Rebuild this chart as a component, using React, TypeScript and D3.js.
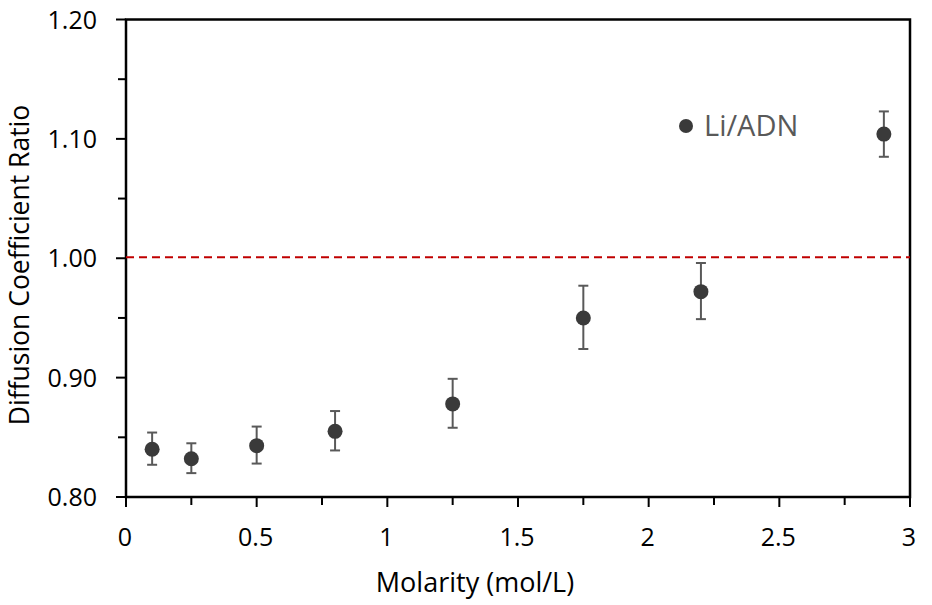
import React, { useEffect, useRef } from 'react';
import * as d3 from 'd3';

const molarity = [0.1, 0.25, 0.5, 0.8, 1.25, 1.75, 2.2, 2.9];
const ratio = [0.840, 0.832, 0.843, 0.855, 0.878, 0.950, 0.972, 1.104];
const errPlus = [0.014, 0.013, 0.016, 0.017, 0.021, 0.027, 0.024, 0.019];
const errMinus = [0.013, 0.012, 0.015, 0.016, 0.020, 0.026, 0.023, 0.019];
const yTicks = [0.8, 0.9, 1.0, 1.1, 1.2];
const xTicks = [0, 0.5, 1, 1.5, 2, 2.5, 3];
const seriesName = 'Li/ADN';
const refLine = 1.0;

const App = () => {
  const ref = useRef<SVGSVGElement>(null);

  useEffect(() => {
    const svg = d3.select(ref.current);
    svg.selectAll('*').remove();
    const font = '"Open Sans", "Noto Sans", sans-serif';
    const left = 126, right = 910, top = 19.5, bottom = 497;

    const x = d3.scaleLinear().domain([0, 3]).range([left, right]);
    const y = d3.scaleLinear().domain([0.8, 1.2]).range([bottom, top]);

    // frame
    svg.append('rect').attr('x', left).attr('y', top).attr('width', right - left).attr('height', bottom - top)
      .attr('fill', 'none').attr('stroke', '#000').attr('stroke-width', 2.5);

    // y ticks
    const yMinor = d3.range(0.85, 1.2, 0.1);
    svg.selectAll('.ymaj').data(yTicks).enter().append('line')
      .attr('x1', left - 10).attr('x2', left).attr('y1', d => y(d)).attr('y2', d => y(d))
      .attr('stroke', '#000').attr('stroke-width', 2);
    svg.selectAll('.ymin').data(yMinor).enter().append('line')
      .attr('x1', left - 8).attr('x2', left).attr('y1', d => y(d)).attr('y2', d => y(d))
      .attr('stroke', '#000').attr('stroke-width', 2);
    svg.selectAll('.ylab').data(yTicks).enter().append('text')
      .attr('x', 97).attr('y', d => y(d)).attr('dy', '0.36em').attr('text-anchor', 'end')
      .attr('font-family', font).attr('font-size', 25).attr('fill', '#000')
      .text(d => d3.format('.2f')(d));

    // x ticks
    const xMinor = d3.range(0.25, 3, 0.5);
    svg.selectAll('.xmaj').data(xTicks).enter().append('line')
      .attr('x1', d => x(d)).attr('x2', d => x(d)).attr('y1', bottom).attr('y2', bottom + 10)
      .attr('stroke', '#000').attr('stroke-width', 2);
    svg.selectAll('.xmin').data(xMinor).enter().append('line')
      .attr('x1', d => x(d)).attr('x2', d => x(d)).attr('y1', bottom).attr('y2', bottom + 8)
      .attr('stroke', '#000').attr('stroke-width', 2);
    svg.selectAll('.xlab').data(xTicks).enter().append('text')
      .attr('x', d => x(d) - 1).attr('y', 546).attr('text-anchor', 'middle')
      .attr('font-family', font).attr('font-size', 25).attr('fill', '#000')
      .text(d => String(d));

    // axis titles
    svg.append('text').attr('x', 475).attr('y', 592).attr('text-anchor', 'middle')
      .attr('font-family', font).attr('font-size', 27).attr('fill', '#000')
      .text('Molarity (mol/L)');
    svg.append('text').attr('transform', `translate(29, 265) rotate(-90)`)
      .attr('text-anchor', 'middle')
      .attr('font-family', font).attr('font-size', 26.5).attr('fill', '#000')
      .text('Diffusion Coefficient Ratio');

    // reference line
    svg.append('line').attr('x1', left).attr('x2', right).attr('y1', y(refLine) - 1).attr('y2', y(refLine) - 1)
      .attr('stroke', '#c00000').attr('stroke-width', 2).attr('stroke-dasharray', '8,5');

    const pts = molarity.map((m, i) => ({ m, v: ratio[i], hi: ratio[i] + errPlus[i], lo: ratio[i] - errMinus[i] }));

    // error bars
    const eb = svg.append('g').attr('stroke', '#595959').attr('stroke-width', 2);
    pts.forEach(p => {
      eb.append('line').attr('x1', x(p.m)).attr('x2', x(p.m)).attr('y1', y(p.hi)).attr('y2', y(p.lo));
      eb.append('line').attr('x1', x(p.m) - 5).attr('x2', x(p.m) + 5).attr('y1', y(p.hi)).attr('y2', y(p.hi));
      eb.append('line').attr('x1', x(p.m) - 5).attr('x2', x(p.m) + 5).attr('y1', y(p.lo)).attr('y2', y(p.lo));
    });

    svg.selectAll('.pt').data(pts).enter().append('circle')
      .attr('cx', d => x(d.m)).attr('cy', d => y(d.v)).attr('r', 7.5).attr('fill', '#3a3a3a');

    // legend
    svg.append('circle').attr('cx', 686).attr('cy', 126).attr('r', 7).attr('fill', '#3a3a3a');
    svg.append('text').attr('x', 704).attr('y', 126).attr('dy', '0.36em')
      .attr('font-family', font).attr('font-size', 29).attr('fill', '#595959').text(seriesName);
  }, []);

  return (
    <svg ref={ref} width={932} height={605} style={{ position: 'absolute', left: 0, top: 0, background: '#fff' }}></svg>
  );
};

export default App;
